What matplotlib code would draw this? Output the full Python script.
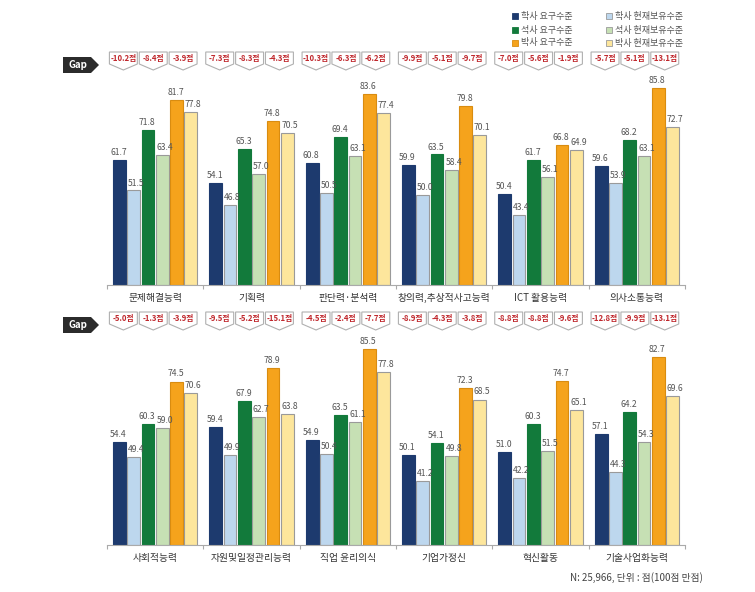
import matplotlib.pyplot as plt
import matplotlib.transforms as mtransforms
from matplotlib.patches import Polygon, Rectangle
import numpy as np

plt.rcParams['font.family'] = ['Noto Sans CJK KR', 'DejaVu Sans']

W, H = 755, 592

series = ['학사 요구수준', '학사 현재보유수준', '석사 요구수준',
          '석사 현재보유수준', '박사 요구수준', '박사 현재보유수준']
colors = ['#1d3a6e', '#bdd7ee', '#127a3b', '#c6e0b4', '#f5a31c', '#fde69c']
edges = ['#1d3a6e', '#9a9a9a', '#127a3b', '#9a9a9a', '#d98c10', '#9a9a9a']

# top panel
top_cats = ['문제해결능력', '기획력', '판단력·분석력', '창의력,추상적사고능력', 'ICT 활용능력', '의사소통능력']
top_vals = [
    [61.7, 54.1, 60.8, 59.9, 50.4, 59.6],   # 학사 요구
    [51.5, 46.8, 50.5, 50.0, 43.4, 53.9],   # 학사 보유
    [71.8, 65.3, 69.4, 63.5, 61.7, 68.2],   # 석사 요구
    [63.4, 57.0, 63.1, 58.4, 56.1, 63.1],   # 석사 보유
    [81.7, 74.8, 83.6, 79.8, 66.8, 85.8],   # 박사 요구
    [77.8, 70.5, 77.4, 70.1, 64.9, 72.7],   # 박사 보유
]
top_gaps = [[-10.2, -8.4, -3.9], [-7.3, -8.3, -4.3], [-10.3, -6.3, -6.2],
            [-9.9, -5.1, -9.7], [-7.0, -5.6, -1.9], [-5.7, -5.1, -13.1]]

# bottom panel
bot_cats = ['사회적능력', '자원및일정관리능력', '직업 윤리의식', '기업가정신', '혁신활동', '기술사업화능력']
bot_vals = [
    [54.4, 59.4, 54.9, 50.1, 51.0, 57.1],
    [49.4, 49.9, 50.4, 41.2, 42.2, 44.3],
    [60.3, 67.9, 63.5, 54.1, 60.3, 64.2],
    [59.0, 62.7, 61.1, 49.8, 51.5, 54.3],
    [74.5, 78.9, 85.5, 72.3, 74.7, 82.7],
    [70.6, 63.8, 77.8, 68.5, 65.1, 69.6],
]
bot_gaps = [[-5.0, -1.3, -3.9], [-9.5, -5.2, -15.1], [-4.5, -2.4, -7.7],
            [-8.9, -4.3, -3.8], [-8.8, -8.8, -9.6], [-12.8, -9.9, -13.1]]

fig = plt.figure(figsize=(W / 100, H / 100), dpi=100)


def fy(p):
    return 1 - p / H


def fx(p):
    return p / W


def panel(cats, vals, gaps, base_px, box_top_px):
    ax = fig.add_axes([fx(107), fy(base_px), fx(685) - fx(107), (225) / H])
    x = np.arange(len(cats))
    pitch, bw = 0.148, 0.132
    for k in range(6):
        xs = x + (k - 2.5) * pitch
        ax.bar(xs, np.array(vals[k]) - 20, bottom=20, width=bw, color=colors[k],
               edgecolor=edges[k], linewidth=0.8)
        shift = 0.025 if k % 2 else -0.01
        for xi, v in zip(xs, vals[k]):
            ax.text(xi + shift, v + 1.0, f'{v:.1f}', ha='center', va='bottom',
                    fontsize=6.2, color='#555555')
    ax.set_xlim(-0.5, len(cats) - 0.5)
    ax.set_ylim(20, 95)
    for s in ['left', 'top', 'right']:
        ax.spines[s].set_visible(False)
    ax.spines['bottom'].set_color('#aaaaaa')
    ax.set_yticks([])
    ax.set_xticks(np.arange(len(cats) + 1) - 0.5)
    ax.set_xticklabels([])
    ax.tick_params(axis='x', which='major', length=3, color='#aaaaaa')
    ax.set_xticks(x, minor=True)
    ax.set_xticklabels(cats, minor=True, fontsize=7, color='#333333')
    ax.tick_params(axis='x', which='minor', length=0, pad=6)

    # gap boxes
    tr = mtransforms.blended_transform_factory(ax.transData, fig.transFigure)
    offs = [-0.33, -0.02, 0.29]
    hw = 0.145
    t, b, p = box_top_px, box_top_px + 12, box_top_px + 18
    for i in range(len(cats)):
        for j in range(3):
            cx = i + offs[j]
            poly = Polygon([(cx - hw, fy(t)), (cx + hw, fy(t)), (cx + hw, fy(b)),
                            (cx, fy(p)), (cx - hw, fy(b))], closed=True,
                           transform=tr, facecolor='white', edgecolor='#b0b0b0',
                           linewidth=0.8, clip_on=False, zorder=2)
            fig.add_artist(poly)
            fig.text(cx, fy(t + 7), f'{gaps[i][j]:.1f}점', transform=tr,
                     ha='center', va='center', fontsize=5.6, color='#c0282d',
                     fontweight='bold', zorder=3)

    # "Gap" tag
    gt, gb = box_top_px + 5, box_top_px + 21
    tag = Polygon([(fx(63), fy(gt)), (fx(91), fy(gt)), (fx(99), fy((gt + gb) / 2)),
                   (fx(91), fy(gb)), (fx(63), fy(gb))], closed=True,
                  transform=fig.transFigure, facecolor='#2b2b2b', edgecolor='none',
                  zorder=2)
    fig.add_artist(tag)
    fig.text(fx(78), fy((gt + gb) / 2), 'Gap', ha='center', va='center',
             fontsize=7, color='white', fontweight='bold', zorder=3)
    return ax


panel(top_cats, top_vals, top_gaps, 285, 52)
panel(bot_cats, bot_vals, bot_gaps, 545, 312)

# legend
leg_pos = [(515, 16), (609, 16), (515, 30), (609, 30), (515, 43), (609, 43)]
for k, (px, py) in enumerate(leg_pos):
    fig.add_artist(Rectangle((fx(px - 3), fy(py + 3)), 6 / W, 6 / H,
                             transform=fig.transFigure, facecolor=colors[k],
                             edgecolor=edges[k], linewidth=0.6))
    fig.text(fx(px + 6), fy(py), series[k], ha='left', va='center',
             fontsize=6.5, color='#555555')

fig.text(fx(703), fy(578), 'N: 25,966, 단위 : 점(100점 만점)', ha='right',
         va='center', fontsize=7, color='#444444')

fig.savefig('out.png', dpi=100)
